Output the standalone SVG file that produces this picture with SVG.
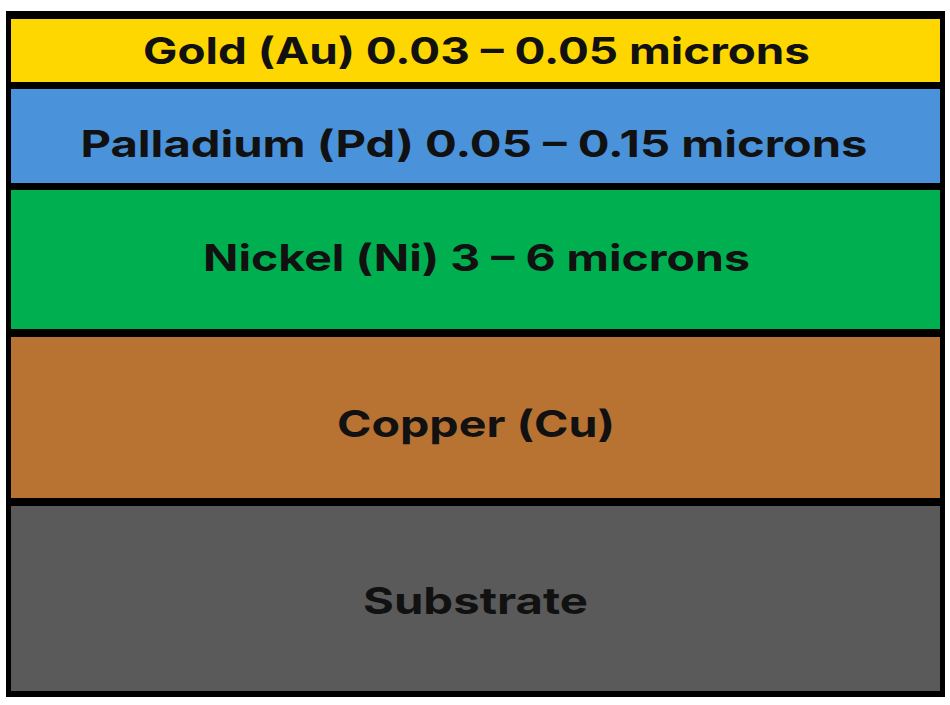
<svg xmlns="http://www.w3.org/2000/svg" width="950" height="705" viewBox="0 0 950 705">
<style>
.t{font-family:Inter,"DejaVu Sans","Liberation Sans",sans-serif;font-weight:bold;font-size:37px;fill:#111;text-anchor:middle}
</style>
<rect width="950" height="705" fill="#fff"/>
<rect x="6" y="11" width="939" height="686" fill="#000"/>
<g id="gold"><rect x="11" y="19" width="929" height="63" fill="#FFD700"/><text class="t" x="476.5" y="64" textLength="667" lengthAdjust="spacingAndGlyphs">Gold (Au) 0.03 – 0.05 microns</text></g>
<g id="palladium"><rect x="11" y="89" width="929" height="94" fill="#4A93DB"/><text class="t" x="474" y="157" textLength="787" lengthAdjust="spacingAndGlyphs">Palladium (Pd) 0.05 – 0.15 microns</text></g>
<g id="nickel"><rect x="11" y="190" width="929" height="139" fill="#00B050"/><text class="t" x="476.5" y="271" textLength="547" lengthAdjust="spacingAndGlyphs">Nickel (Ni) 3 – 6 microns</text></g>
<g id="copper"><rect x="11" y="337" width="929" height="161" fill="#B87333"/><text class="t" x="476" y="437" textLength="278" lengthAdjust="spacingAndGlyphs">Copper (Cu)</text></g>
<g id="substrate"><rect x="11" y="506" width="929" height="185" fill="#5A5A5A"/><text class="t" x="475.5" y="614" textLength="225" lengthAdjust="spacingAndGlyphs">Substrate</text></g>
<g id="connectors"/>
</svg>
